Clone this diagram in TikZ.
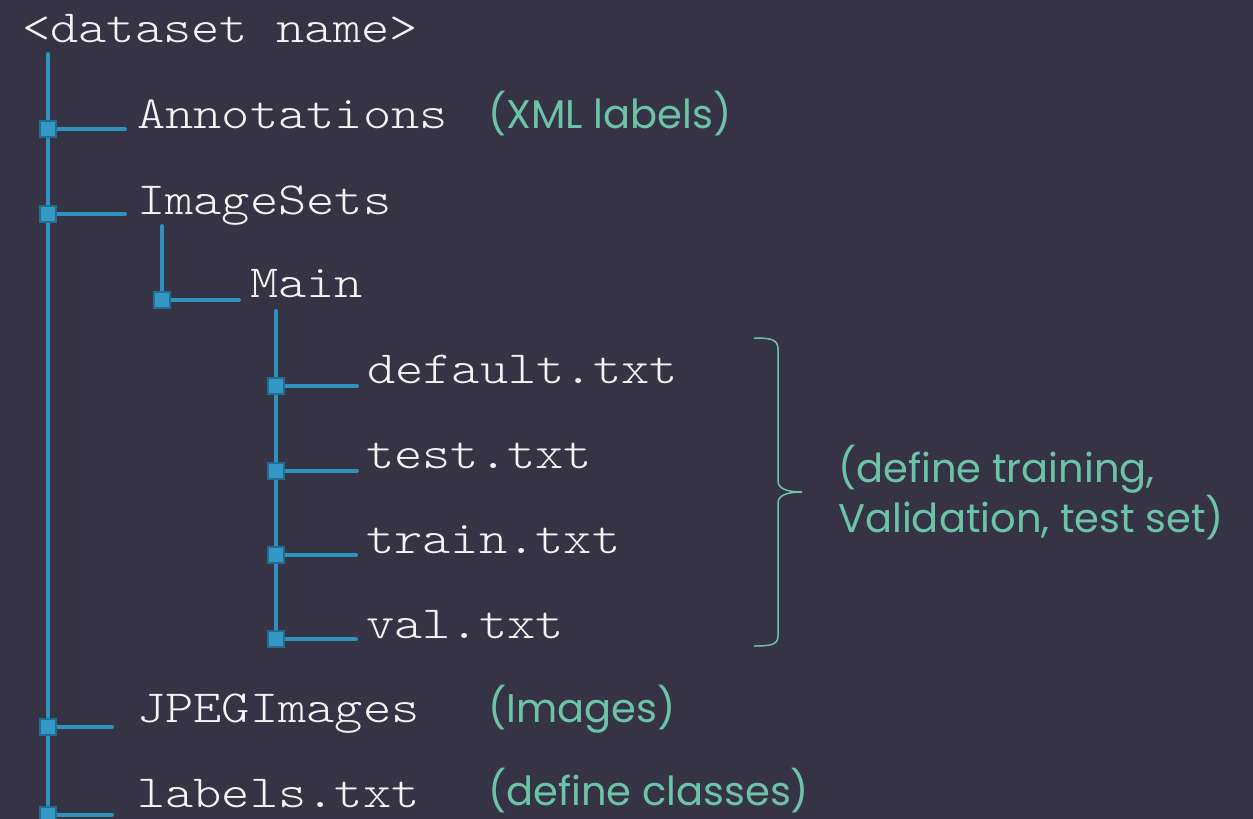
\documentclass[tikz,border=0pt]{standalone}
\usepackage{fontspec}
\setmonofont{lmmonolt10-regular.otf}[FakeStretch=1.17]
\newfontfamily\notefont{Poppins}
\definecolor{bgc}{HTML}{363345}
\definecolor{treec}{HTML}{2F93BE}
\definecolor{sqfill}{HTML}{3399C4}
\definecolor{sqdraw}{HTML}{226C92}
\definecolor{notec}{HTML}{6CC4A6}
\definecolor{txtc}{HTML}{F4F4F4}
\pgfdeclarelayer{back}
\pgfdeclarelayer{lines}
\pgfsetlayers{back,lines,main}
\begin{document}
\begin{tikzpicture}[x=1pt,y=-1pt,
  sq/.style={draw=sqdraw,fill=sqfill,line width=2pt,minimum size=16pt,inner sep=0pt,outer sep=0pt},
  tree/.style={draw=treec,line width=4pt,line cap=round},
  item/.style={anchor=base west,inner sep=0pt,text=txtc,font=\ttfamily\fontsize{46}{50}\selectfont},
  note/.style={anchor=base west,inner sep=0pt,text=notec,font=\notefont\fontsize{40}{50}\selectfont,align=left},
  brace/.style={draw=notec,line width=1.5pt}]
\begin{pgfonlayer}{back}
\fill[bgc] (0,0) rectangle (1253,819);
\end{pgfonlayer}
\useasboundingbox (0,0) rectangle (1253,819);
% texts
\node[item] (root) at (22,42) {<dataset name>};
\node[item] (ann) at (137,128) {Annotations};
\node[item] (imgsets) at (137,214) {ImageSets};
\node[item] (main) at (250,297) {Main};
\node[item] (deflt) at (367,383) {default.txt};
\node[item] (test) at (366,468) {test.txt};
\node[item] (train) at (366,553) {train.txt};
\node[item] (val) at (366,638) {val.txt};
\node[item] (jpeg) at (137,722) {JPEGImages};
\node[item] (lbl) at (137,807) {labels.txt};
\node[note] (nann) at (488,128) {(XML labels)};
\node[note] (nimg) at (488,722) {(Images)};
\node[note] (ncls) at (488,805) {(define classes)};
\node[note] (nset) at (838,532) {(define training,\\Validation, test set)};
% squares
\node[sq] (s1) at (48,129) {};
\node[sq] (s2) at (48,214) {};
\node[sq] (s3) at (162,300) {};
\node[sq] (t1) at (276,386) {};
\node[sq] (t2) at (276,471) {};
\node[sq] (t3) at (276,555) {};
\node[sq] (t4) at (276,639) {};
\node[sq] (s5) at (48,727) {};
\node[sq] (s6) at (48,815) {};
% free ends
\coordinate (r0) at (48,54);
\coordinate (r1) at (162,226);
\coordinate (r2) at (276,311);
\coordinate (a1) at (125,129);
\coordinate (a2) at (125,214);
\coordinate (a3) at (239,300);
\coordinate (b1) at (357,386);
\coordinate (b2) at (357,471);
\coordinate (b3) at (356,555);
\coordinate (b4) at (356,639);
\coordinate (a5) at (112,727);
\coordinate (a6) at (112,815);
\coordinate (bt) at (754,338);
\coordinate (bm) at (802,492);
\coordinate (bb) at (754,646);
\begin{pgfonlayer}{lines}
\draw[tree] (r0) -- (s1.center) -- (s2.center) -- (s5.center) -- (s6.center);
\draw[tree] (s1.center) -- (a1);
\draw[tree] (s2.center) -- (a2);
\draw[tree] (s5.center) -- (a5);
\draw[tree] (s6.center) -- (a6);
\draw[tree] (r1) -- (s3.center) -- (a3);
\draw[tree] (r2) -- (t1.center) -- (t2.center) -- (t3.center) -- (t4.center);
\draw[tree] (t1.center) -- (b1);
\draw[tree] (t2.center) -- (b2);
\draw[tree] (t3.center) -- (b3);
\draw[tree] (t4.center) -- (b4);
\end{pgfonlayer}
\draw[brace] (bt) .. controls (770,338) and (778,339) .. (778,349) -- (778,481)
  .. controls (778,489) and (788,492) .. (bm)
  .. controls (788,492) and (778,495) .. (778,503) -- (778,636)
  .. controls (778,645) and (770,646) .. (bb);
\end{tikzpicture}
\end{document}
